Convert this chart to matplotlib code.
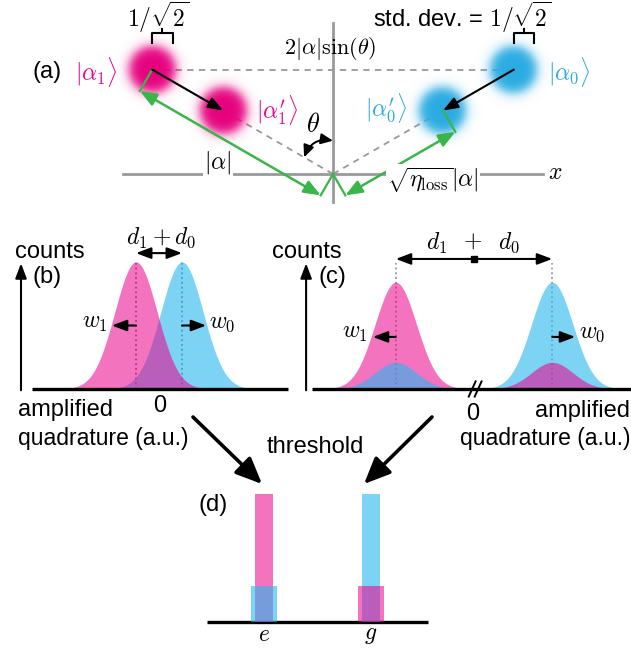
import numpy as np
import matplotlib
matplotlib.use("Agg")
import matplotlib.pyplot as plt
from matplotlib.colors import to_rgb

plt.rcParams['font.family'] = ['Liberation Sans', 'DejaVu Sans']
plt.rcParams['mathtext.fontset'] = 'cm'

# (a) phase space, units where the coherent-state std dev is 1/sqrt(2)
alpha_mag = 7.2
theta_deg = 60.0
eta_loss = 0.37
std_dev = 1 / np.sqrt(2)
blob_radius = 1.0

# (b) weak amplification: overlapping histograms (e pink, g blue)
b_centers = [-1.0, 1.0]
b_sigma = 0.92
b_height = 1.0
b_w = 1.05

# (c) strong amplification: separated histograms + cross-talk bumps
c_centers = [-3.4, 3.4]
c_sigma = 0.9
c_height_main = 0.84
c_height_cross = 0.21
c_w = 1.0

# (d) thresholded counts
d_states = ['e', 'g']
d_main = [1.0, 1.0]
d_cross = [0.28, 0.28]

PINK = '#EC008C'
BLUE = '#26B7EE'
BLOB_PINK = '#E6007E'
BLOB_BLUE = '#29ABE2'
TXT_BLUE = '#29ABE2'
GREEN = '#39B54A'
GREY = '#999999'
W, H = 631, 649

fig = plt.figure(figsize=(W / 100, H / 100), dpi=100)


def box(x0, y0, x1, y1):
    ax = fig.add_axes([x0 / W, 1 - y1 / H, (x1 - x0) / W, (y1 - y0) / H])
    ax.axis('off')
    return ax


def ftext(px, py, s, **kw):
    kw.setdefault('ha', 'center')
    kw.setdefault('va', 'center')
    kw.setdefault('fontsize', 17)
    fig.text(px / W, 1 - py / H, s, **kw)


def arrow(ax, p, q, style='-|>', color='k', lw=1.5, hl=0.45, hw=0.17, ms=20, z=5):
    ax.annotate('', xy=q, xytext=p,
                arrowprops=dict(arrowstyle=f'{style},head_length={hl},head_width={hw}',
                                color=color, lw=lw, shrinkA=0, shrinkB=0,
                                mutation_scale=ms), zorder=z)


# ---------------- (a) ----------------
ax = box(0, 0, W, H)
s, ox, oy = 29.0, 333, 174
ax.set_xlim(-ox / s, (W - ox) / s)
ax.set_ylim(-(H - oy) / s, oy / s)

phi = np.deg2rad(90 - theta_deg)
a1 = alpha_mag * np.array([-np.cos(phi), np.sin(phi)])
a0 = alpha_mag * np.array([np.cos(phi), np.sin(phi)])
a1p = np.sqrt(eta_loss) * a1
a0p = np.sqrt(eta_loss) * a0

ax.plot([-7.24, 7.24], [0, 0], color=GREY, lw=2, zorder=1)
ax.plot([0, 0], [-0.95, 5.2], color=GREY, lw=2, zorder=1)

dash = dict(color=GREY, lw=1.3, ls=(0, (3.5, 3)), zorder=2)
ax.plot([a1[0], a0[0]], [a1[1], a0[1]], **dash)
ax.plot([0, a1p[0]], [0, a1p[1]], **dash)
ax.plot([0, a0p[0]], [0, a0p[1]], **dash)


def blob(c, color):
    n = 151
    g = np.linspace(-1.5, 1.5, n)
    X, Y = np.meshgrid(g, g)
    r = np.hypot(X, Y) / blob_radius
    img = np.zeros((n, n, 4))
    img[..., :3] = to_rgb(color)
    img[..., 3] = 1 / (1 + np.exp((r - 0.8) / 0.11))
    ax.imshow(img, extent=[c[0] - 1.5, c[0] + 1.5, c[1] - 1.5, c[1] + 1.5],
              interpolation='bilinear', zorder=3)


for c, col in ((a1, BLOB_PINK), (a1p, BLOB_PINK), (a0, BLOB_BLUE), (a0p, BLOB_BLUE)):
    blob(c, col)
ax.set_aspect('auto')
ax.set_xlim(-ox / s, (W - ox) / s)
ax.set_ylim(-(H - oy) / s, oy / s)

arrow(ax, a1, a1p)
arrow(ax, a0, a0p)

# green dimension lines for |alpha| and sqrt(eta)|alpha|
for p in (a1, a0p):
    d = p / np.linalg.norm(p)
    n = np.array([d[1], -d[0]])
    if n[1] > 0:
        n = -n
    off = 0.85 * n
    ax.plot([0, off[0]], [0, off[1]], color=GREEN, lw=1.6, zorder=4)
    ax.plot([p[0], p[0] + off[0]], [p[1], p[1] + off[1]], color=GREEN, lw=1.6, zorder=4)
    arrow(ax, off, p + off, style='<|-|>', color=GREEN, lw=1.8, hl=0.5, hw=0.2)

# brackets (std dev)
for c in (a1, a0):
    yb, yt = c[1] + 0.92, c[1] + 1.26
    ax.plot([c[0], c[0], c[0] + std_dev, c[0] + std_dev], [yb, yt, yt, yb], color='k', lw=1.5, zorder=4)
    ax.plot([c[0] + std_dev / 2] * 2, [yt, yt + 0.14], color='k', lw=1.5, zorder=4)

# theta arc
r_arc = 1.15
pA = r_arc * np.array([np.cos(np.pi - phi), np.sin(np.pi - phi)])
pB = np.array([0, r_arc])
ax.annotate('', xy=pB, xytext=pA,
            arrowprops=dict(arrowstyle='<|-|>,head_length=0.45,head_width=0.2', color='k', lw=1.4,
                            shrinkA=0, shrinkB=0, mutation_scale=16,
                            connectionstyle='arc3,rad=-0.4'), zorder=5)

ftext(47, 72, '(a)')
ftext(96, 72, r'$|\alpha_1\rangle$', color=PINK)
ftext(277, 110, r'$|\alpha^{\prime}_1\rangle$', color=PINK)
ftext(386, 108, r'$|\alpha^{\prime}_0\rangle$', color=TXT_BLUE)
ftext(569, 72, r'$|\alpha_0\rangle$', color=TXT_BLUE)
ftext(158, 17, r'$1/\sqrt{2}$')
ftext(462, 17, r'std. dev. = $1/\sqrt{2}$')
ftext(330, 49, r'$2|\alpha|\sin(\theta)$', fontsize=16)
ftext(313, 125, r'$\theta$', fontsize=19)
ftext(218, 163, r'$|\alpha|$', bbox=dict(fc='white', ec='none', pad=1))
ftext(433, 180, r'$\sqrt{\eta_{\rm loss}}|\alpha|$', bbox=dict(fc='white', ec='none', pad=1))
ftext(555, 173, r'$x$')

# ---------------- (b) ----------------
axb = box(0, 225, 300, 455)
axb.set_xlim(-159 / 23, 141 / 23)
axb.set_ylim(-66 / 127, 164 / 127)
xb = np.linspace(-5.5, 5.6, 800)


def gauss(x, c, h, sg):
    return h * np.exp(-0.5 * ((x - c) / sg) ** 2)


for c in b_centers:
    axb.plot([c, c], [0, b_height], color='#777777', ls=':', lw=1.3, zorder=1)
axb.fill_between(xb, gauss(xb, b_centers[1], b_height, b_sigma), color=BLUE, alpha=0.6, lw=0, zorder=2)
axb.fill_between(xb, gauss(xb, b_centers[0], b_height, b_sigma), color=PINK, alpha=0.55, lw=0, zorder=3)
axb.plot([-5.52, 5.61], [0, 0], color='k', lw=2.4, solid_capstyle='butt', zorder=4)
arrow(axb, (-6.0, -0.01), (-6.0, 0.99), lw=1.5)
arrow(axb, (b_centers[0], 1.07), (b_centers[1], 1.07), style='<|-|>', lw=1.5)
arrow(axb, (b_centers[0], 0.5), (b_centers[0] - b_w, 0.5), lw=1.5)
arrow(axb, (b_centers[1], 0.5), (b_centers[1] + b_w, 0.5), lw=1.5)

ftext(161, 238, r'$d_1 + d_0$')
ftext(95, 323, r'$w_1$')
ftext(222, 323, r'$w_0$')
ftext(15, 252, 'counts', ha='left')
ftext(33, 277, '(b)', ha='left')
ftext(160, 406, '0')
ftext(18, 410, 'amplified', ha='left')
ftext(18, 438, 'quadrature (a.u.)', ha='left', fontsize=16.5)

# ---------------- (c) ----------------
axc = box(290, 225, W, 455)
axc.set_xlim(-184 / 23, 157 / 23)
axc.set_ylim(-66 / 127, 164 / 127)
xc = np.linspace(-7.0, 6.9, 1000)
for c in c_centers:
    axc.plot([c, c], [0, 0.99], color='#999999', ls=':', lw=1.3, zorder=1)
axc.fill_between(xc, gauss(xc, c_centers[0], c_height_main, c_sigma), color=PINK, alpha=0.55, lw=0, zorder=2)
axc.fill_between(xc, gauss(xc, c_centers[0], c_height_cross, c_sigma), color=BLUE, alpha=0.6, lw=0, zorder=3)
axc.fill_between(xc, gauss(xc, c_centers[1], c_height_main, c_sigma), color=BLUE, alpha=0.6, lw=0, zorder=2)
axc.fill_between(xc, gauss(xc, c_centers[1], c_height_cross, c_sigma), color=PINK, alpha=0.55, lw=0, zorder=3)
axc.plot([-7.04, 6.9], [0, 0], color='k', lw=2.4, solid_capstyle='butt', zorder=4)
for dx in (-0.1, 0.16):
    axc.plot([dx - 0.13, dx + 0.17], [-0.06, 0.06], color='k', lw=1.4, zorder=5)
arrow(axc, (-7.3, -0.01), (-7.3, 0.99), lw=1.5)
arrow(axc, (c_centers[0], 1.024), (c_centers[1], 1.024), style='<|-|>', lw=1.5)
axc.plot([0], [1.024], marker='s', color='k', ms=4, zorder=6)
arrow(axc, (c_centers[0], 0.41), (c_centers[0] - c_w, 0.41), lw=1.5)
arrow(axc, (c_centers[1], 0.41), (c_centers[1] + c_w, 0.41), lw=1.5)

ftext(437, 243, r'$d_1$')
ftext(473, 242, r'$+$')
ftext(509, 243, r'$d_0$')
ftext(355, 333, r'$w_1$')
ftext(592, 333, r'$w_0$')
ftext(272, 252, 'counts', ha='left')
ftext(318, 277, '(c)', ha='left')
ftext(473, 414, '0')
ftext(630, 411, 'amplified', ha='right')
ftext(630, 438, 'quadrature (a.u.)', ha='right', fontsize=16.5)

# threshold arrows
for p, q in (((193, 417), (262, 484)), ((432, 417), (364, 484))):
    ax.annotate('', xy=(q[0] / W, 1 - q[1] / H), xycoords='figure fraction',
                xytext=(p[0] / W, 1 - p[1] / H), textcoords='figure fraction',
                arrowprops=dict(arrowstyle='-|>,head_length=0.8,head_width=0.35', color='k',
                                lw=2.6, shrinkA=0, shrinkB=0, mutation_scale=20))
ftext(315, 447, 'threshold')

# ---------------- (d) ----------------
axd = box(190, 470, 440, H)
axd.set_xlim(-74 / 107, 176 / 107)
axd.set_ylim(-27 / 128.5, 152 / 128.5)
axd.plot([-0.533, 1.533], [0, 0], color='k', lw=2.4, solid_capstyle='butt', zorder=1)
main_cols = [PINK, BLUE]
cross_cols = [BLUE, PINK]
alphas = {PINK: 0.55, BLUE: 0.6}
for i, st in enumerate(d_states):
    axd.bar(i, d_main[i], width=0.168, color=main_cols[i], alpha=alphas[main_cols[i]], lw=0, zorder=2)
    axd.bar(i, d_cross[i], width=0.234, color=cross_cols[i], alpha=alphas[cross_cols[i]], lw=0, zorder=3)
    axd.text(i, -0.1, f'${st}$', ha='center', va='center', fontsize=17)
ftext(213, 505, '(d)')

fig.savefig('out.png', dpi=100)
